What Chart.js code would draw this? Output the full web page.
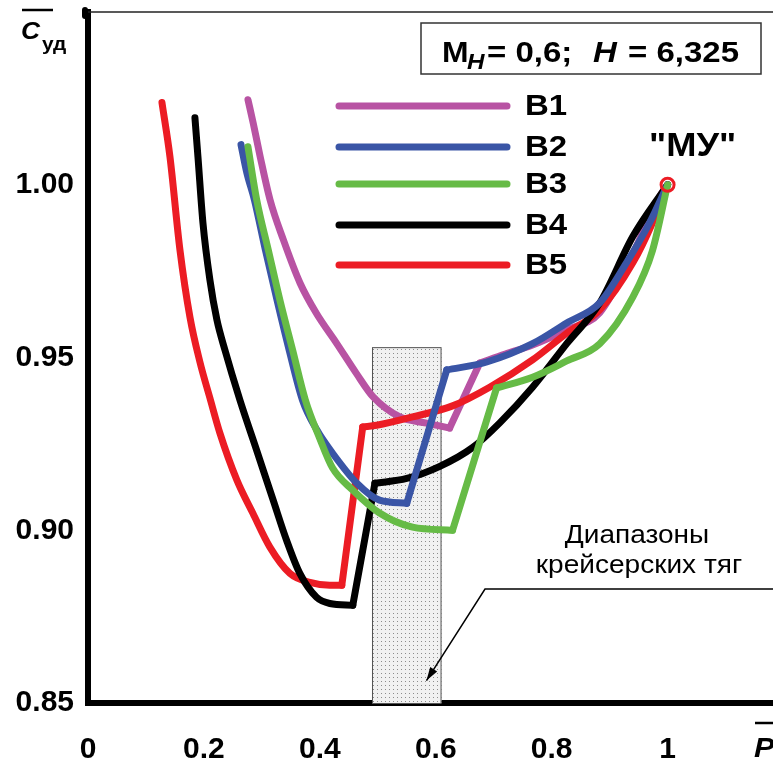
<!DOCTYPE html>
<html>
<head>
<meta charset="utf-8">
<script src="https://cdn.jsdelivr.net/npm/chart.js@4.4.0/dist/chart.umd.min.js"></script>
<style>
html, body { margin: 0; padding: 0; background: #fff; }
</style>
</head>
<body>
<canvas id="myChart" width="773" height="763"></canvas>
<script>
// axis ticks
const xTickValues = [0, 0.2, 0.4, 0.6, 0.8, 1];
const yTickValues = [0.85, 0.90, 0.95, 1.00];

// series: relative thrust P vs relative specific fuel consumption C
const seriesNames = ['В1', 'В2', 'В3', 'В4', 'В5'];

const b1X = [0.276, 0.285, 0.297, 0.314, 0.337, 0.366, 0.394, 0.429, 0.463, 0.492, 0.538, 0.584, 0.624, 0.676, 0.72, 0.767, 0.826, 0.883, 0.94, 0.986, 1.0];
const b1Y = [1.0246, 1.0179, 1.0082, 0.9957, 0.9841, 0.9715, 0.9628, 0.9541, 0.9454, 0.9386, 0.9328, 0.931, 0.9296, 0.9484, 0.951, 0.9536, 0.958, 0.963, 0.980, 0.9965, 1.0];
const b1Breaks = [12, 13];

const b2X = [0.264, 0.274, 0.287, 0.306, 0.326, 0.347, 0.37, 0.395, 0.422, 0.464, 0.503, 0.55, 0.619, 0.688, 0.767, 0.826, 0.883, 0.929, 0.969, 1.0];
const b2Y = [1.0116, 1.0035, 0.9957, 0.9812, 0.9667, 0.9522, 0.9377, 0.929, 0.9223, 0.9136, 0.9087, 0.9078, 0.9464, 0.9487, 0.954, 0.96, 0.9658, 0.9774, 0.989, 1.0];
const b2Breaks = [11, 12];

const b3X = [0.276, 0.291, 0.311, 0.331, 0.353, 0.375, 0.40, 0.422, 0.457, 0.503, 0.56, 0.629, 0.705, 0.767, 0.826, 0.883, 0.94, 0.974, 1.0];
const b3Y = [1.011, 0.9957, 0.9812, 0.9667, 0.9522, 0.9377, 0.9265, 0.918, 0.9116, 0.905, 0.9009, 0.900, 0.9412, 0.9443, 0.949, 0.954, 0.9675, 0.981, 1.0];
const b3Breaks = [11, 12];

const b4X = [0.1845, 0.1897, 0.1983, 0.2103, 0.2224, 0.2362, 0.2621, 0.2909, 0.3195, 0.3426, 0.3655, 0.3943, 0.4172, 0.4569, 0.495, 0.55, 0.607, 0.664, 0.71, 0.767, 0.826, 0.883, 0.94, 1.0];
const b4Y = [1.0194, 1.0081, 0.989, 0.9725, 0.9609, 0.9522, 0.9377, 0.9232, 0.9087, 0.8971, 0.8875, 0.8806, 0.8788, 0.8783, 0.9136, 0.915, 0.9185, 0.924, 0.931, 0.9414, 0.954, 0.9658, 0.985, 1.0];
const b4Breaks = [13, 14];

const b5X = [0.1276, 0.1414, 0.1586, 0.1759, 0.1931, 0.2103, 0.2276, 0.2569, 0.2845, 0.3138, 0.3483, 0.3828, 0.4172, 0.4379, 0.474, 0.498, 0.56, 0.629, 0.693, 0.767, 0.826, 0.883, 0.94, 0.974, 1.0];
const b5Y = [1.0238, 1.0081, 0.9812, 0.9617, 0.9487, 0.9383, 0.9281, 0.9145, 0.9049, 0.8951, 0.8875, 0.8849, 0.8841, 0.8841, 0.9299, 0.9304, 0.9328, 0.936, 0.9414, 0.9493, 0.957, 0.9638, 0.9774, 0.989, 1.0];
const b5Breaks = [13, 14];

// "МУ" point and cruise thrust range
const muPoint = [1.0, 1.0];
const cruiseRange = [0.49, 0.61];
const cruiseTop = 0.953;

const colors = ['#b853a3', '#3a55a6', '#66bb46', '#000000', '#ec1c24'];
const layers = [5, 2, 1, 3, 4];
const FONT = '"Liberation Sans", Arial, sans-serif';
const SX = 1.1; // the source picture is a little wide

const allX = [b1X, b2X, b3X, b4X, b5X];
const allY = [b1Y, b2Y, b3Y, b4Y, b5Y];
const allBreaks = [b1Breaks, b2Breaks, b3Breaks, b4Breaks, b5Breaks];

function pts(xs, ys, from, to) {
  const out = [];
  for (let i = from; i <= to; i++) out.push({x: xs[i], y: ys[i]});
  return out;
}

// each series: smooth branch, straight switch-over, smooth branch
const datasets = [];
seriesNames.forEach((name, i) => {
  const xs = allX[i], ys = allY[i], br = allBreaks[i];
  const pieces = [[0, br[0], true], [br[0], br[1], false], [br[1], xs.length - 1, true]];
  pieces.forEach(p => {
    datasets.push({
      label: name,
      data: pts(xs, ys, p[0], p[1]),
      borderColor: colors[i],
      borderWidth: 7,
      borderCapStyle: 'round',
      borderJoinStyle: 'round',
      pointRadius: 0,
      cubicInterpolationMode: p[2] ? 'monotone' : 'default',
      tension: 0,
      fill: false,
      order: layers[i]
    });
  });
});

datasets.push({
  label: 'МУ',
  data: [{x: muPoint[0], y: muPoint[1]}],
  showLine: false,
  pointRadius: 6.5,
  pointBorderWidth: 3,
  pointBorderColor: '#ec1c24',
  pointBackgroundColor: 'rgba(0,0,0,0)',
  order: 0
});

// dotted fill for the cruise box
const pc = document.createElement('canvas');
pc.width = 4; pc.height = 4;
const pg = pc.getContext('2d');
pg.fillStyle = '#f1f1f1';
pg.fillRect(0, 0, 4, 4);
pg.fillStyle = '#8c8c8c';
pg.fillRect(1, 1, 1, 1);

function wideText(ctx, text, x, y, font, align) {
  ctx.save();
  ctx.font = font;
  ctx.translate(x, y);
  ctx.scale(SX, 1);
  ctx.textAlign = align || 'left';
  ctx.fillText(text, 0, 0);
  ctx.restore();
}

const extras = {
  id: 'extras',
  beforeDatasetsDraw(chart) {
    const ctx = chart.ctx;
    const xs = chart.scales.x, ys = chart.scales.y;
    const l = xs.getPixelForValue(cruiseRange[0]);
    const r = xs.getPixelForValue(cruiseRange[1]);
    const t = ys.getPixelForValue(cruiseTop);
    const b = ys.getPixelForValue(0.85);
    ctx.save();
    ctx.fillStyle = ctx.createPattern(pc, 'repeat');
    ctx.fillRect(l, t, r - l, b - t);
    ctx.strokeStyle = '#555';
    ctx.lineWidth = 1;
    ctx.strokeRect(l + 0.5, t + 0.5, r - l - 1, b - t);
    ctx.restore();
  },
  afterDraw(chart) {
    const ctx = chart.ctx;
    const xs = chart.scales.x, ys = chart.scales.y;
    const area = chart.chartArea;
    ctx.save();

    // top frame line, axis stub above it, bottom axis carried to the edge
    ctx.strokeStyle = '#222';
    ctx.lineWidth = 1.5;
    ctx.beginPath();
    ctx.moveTo(area.left, 12);
    ctx.lineTo(773, 12);
    ctx.stroke();
    ctx.strokeStyle = '#000';
    ctx.lineWidth = 6;
    ctx.lineCap = 'round';
    ctx.beginPath();
    ctx.moveTo(area.left - 3, 10);
    ctx.lineTo(area.left - 3, area.top + 4);
    ctx.stroke();
    ctx.lineCap = 'butt';
    ctx.beginPath();
    ctx.moveTo(area.right - 2, area.bottom);
    ctx.lineTo(773, area.bottom);
    ctx.stroke();

    // axis titles
    ctx.fillStyle = '#000';
    ctx.textBaseline = 'alphabetic';
    wideText(ctx, 'C', 21, 39, 'italic bold 24px ' + FONT);
    wideText(ctx, 'уд', 42, 50, 'bold 19px ' + FONT);
    ctx.lineWidth = 2.5;
    ctx.beginPath();
    ctx.moveTo(22, 10); ctx.lineTo(53, 10);
    ctx.stroke();

    wideText(ctx, 'P', 754, 757, 'italic bold 28px ' + FONT);
    ctx.beginPath();
    ctx.moveTo(755, 723); ctx.lineTo(773, 723);
    ctx.stroke();

    // condition box
    ctx.lineWidth = 1.5;
    ctx.strokeStyle = '#333';
    ctx.strokeRect(421, 23, 340, 51);
    wideText(ctx, 'M', 442, 62, 'bold 29px ' + FONT);
    wideText(ctx, 'H', 467, 69, 'italic bold 22px ' + FONT);
    wideText(ctx, '= 0,6;', 487, 62, 'bold 30px ' + FONT);
    wideText(ctx, 'H', 593, 62, 'italic bold 30px ' + FONT);
    wideText(ctx, '= 6,325', 628, 62, 'bold 30px ' + FONT);

    // legend
    const legendY = [106, 147, 184, 225, 265];
    seriesNames.forEach((name, i) => {
      const y = legendY[i];
      ctx.strokeStyle = colors[i];
      ctx.lineWidth = 7;
      ctx.lineCap = 'round';
      ctx.beginPath();
      ctx.moveTo(339, y); ctx.lineTo(507, y);
      ctx.stroke();
      ctx.textBaseline = 'middle';
      ctx.fillStyle = '#000';
      wideText(ctx, name, 525, y + 1, 'bold 30px ' + FONT);
    });
    ctx.lineCap = 'butt';

    // МУ label
    ctx.textBaseline = 'alphabetic';
    wideText(ctx, '"МУ"', xs.getPixelForValue(muPoint[0]) + 25, ys.getPixelForValue(muPoint[1]) - 29, 'bold 33px ' + FONT, 'center');

    // cruise range note and arrow
    wideText(ctx, 'Диапазоны', 637, 543, '25.5px ' + FONT, 'center');
    wideText(ctx, 'крейсерских тяг', 639, 573, '25.5px ' + FONT, 'center');
    const kx = 485, ky = 589;
    const ax = xs.getPixelForValue(0.584), ay = ys.getPixelForValue(0.8565);
    ctx.strokeStyle = '#000';
    ctx.lineWidth = 1.5;
    ctx.beginPath();
    ctx.moveTo(773, ky); ctx.lineTo(kx, ky); ctx.lineTo(ax, ay);
    ctx.stroke();
    const ang = Math.atan2(ay - ky, ax - kx);
    ctx.beginPath();
    ctx.moveTo(ax, ay);
    ctx.lineTo(ax - 14 * Math.cos(ang - 0.3), ay - 14 * Math.sin(ang - 0.3));
    ctx.lineTo(ax - 14 * Math.cos(ang + 0.3), ay - 14 * Math.sin(ang + 0.3));
    ctx.closePath();
    ctx.fillStyle = '#000';
    ctx.fill();

    ctx.restore();
  }
};

new Chart(document.getElementById('myChart'), {
  type: 'line',
  data: {datasets: datasets},
  plugins: [extras],
  options: {
    responsive: false,
    devicePixelRatio: 1,
    animation: false,
    layout: {padding: {top: 12, right: 0, left: 0, bottom: 0}},
    plugins: {legend: {display: false}, tooltip: {enabled: false}},
    scales: {
      x: {
        type: 'linear',
        min: 0,
        max: 1.1655,
        afterFit(s) { s.height = 60; s.paddingLeft = 0; s.paddingRight = 0; },
        afterBuildTicks(s) { s.ticks = xTickValues.map(v => ({value: v})); },
        grid: {display: false, drawTicks: false},
        border: {display: true, color: '#000', width: 6},
        ticks: {
          padding: 29,
          color: '#000',
          font: {family: FONT, size: 30, weight: 'bold'},
          maxRotation: 0,
          callback: v => String(Math.round(v * 10) / 10)
        }
      },
      y: {
        type: 'linear',
        min: 0.85,
        max: 1.05,
        afterFit(s) { s.width = 88; s.paddingTop = 0; s.paddingBottom = 0; },
        afterBuildTicks(s) { s.ticks = yTickValues.map(v => ({value: v})); },
        grid: {display: false, drawTicks: false},
        border: {display: true, color: '#000', width: 6},
        ticks: {
          padding: 14,
          color: '#000',
          font: {family: FONT, size: 30, weight: 'bold'},
          callback: v => v.toFixed(2)
        }
      }
    }
  }
});
</script>
</body>
</html>
